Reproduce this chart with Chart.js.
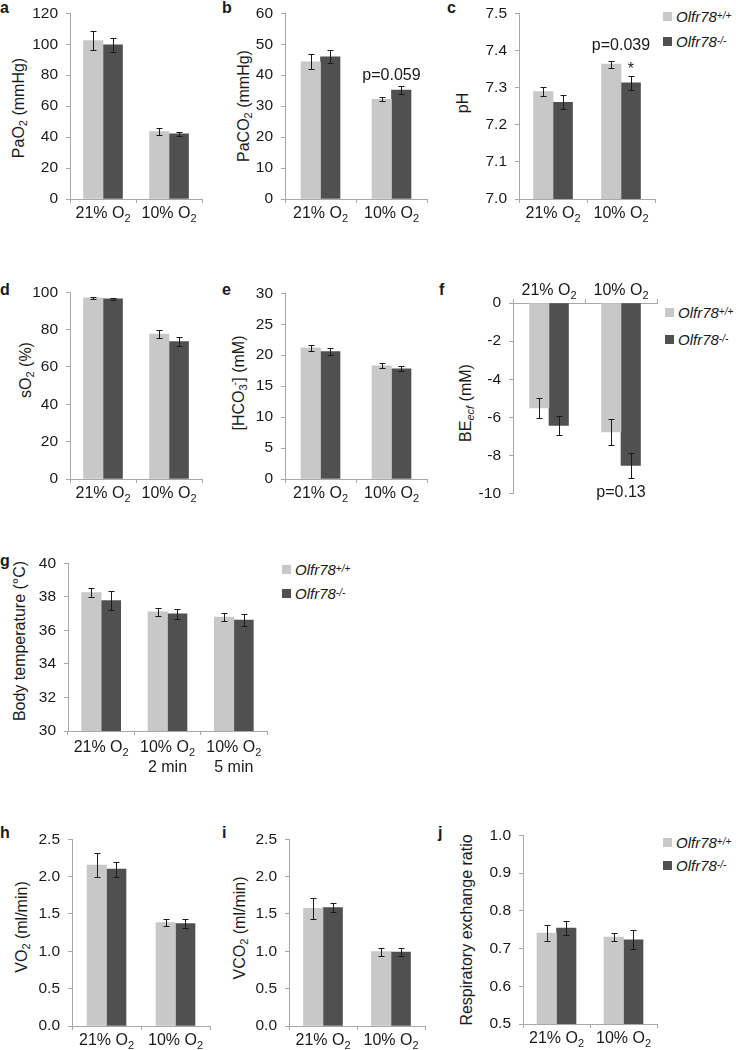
<!DOCTYPE html>
<html>
<head>
<meta charset="utf-8">
<script src="https://cdn.jsdelivr.net/npm/chart.js@4.4.1/dist/chart.umd.min.js"></script>
<style>
  body { margin: 0; background: #fff; width: 736px; height: 1050px; position: relative; overflow: hidden;
         font-family: "Liberation Sans", Arial, sans-serif; color: #1a1a1a; }
  canvas { position: absolute; }
  .lt { position: absolute; font-weight: bold; font-size: 16px; line-height: 16px; }
  .yt { position: absolute; font-size: 16px; line-height: 16px; white-space: nowrap;
        transform: translate(-50%, -50%) rotate(-90deg); }
  .yt sub { font-size: 11px; vertical-align: -3px; line-height: 0; }
  .yt sup { font-size: 11px; vertical-align: 6px; line-height: 0; margin-left: -1px; }
  .leg { position: absolute; display: flex; align-items: center; height: 20px; font-size: 15px;
         font-style: italic; white-space: nowrap; }
  .leg sup { font-size: 10px; vertical-align: 6px; line-height: 0; }
  .sw { width: 9px; height: 9px; margin-right: 4px; display: inline-block; }
</style>
</head>
<body>

<!-- panel letters -->
<div class="lt" style="left:0;top:0">a</div>
<div class="lt" style="left:222px;top:0">b</div>
<div class="lt" style="left:447px;top:0">c</div>
<div class="lt" style="left:0;top:282px">d</div>
<div class="lt" style="left:222px;top:282px">e</div>
<div class="lt" style="left:439px;top:282px">f</div>
<div class="lt" style="left:0;top:553px">g</div>
<div class="lt" style="left:0;top:825px">h</div>
<div class="lt" style="left:222px;top:825px">i</div>
<div class="lt" style="left:438px;top:825px">j</div>

<!-- y axis titles -->
<div class="yt" style="left:19px;top:108px">PaO<sub>2</sub> (mmHg)</div>
<div class="yt" style="left:244px;top:106px">PaCO<sub>2</sub> (mmHg)</div>
<div class="yt" style="left:463px;top:103px">pH</div>
<div class="yt" style="left:26px;top:370px">sO<sub>2</sub> (%)</div>
<div class="yt" style="left:239px;top:383px">[HCO<sub>3</sub><sup>-</sup>] (mM)</div>
<div class="yt" style="left:466px;top:403px">BE<sub><i>ecf</i></sub> (mM)</div>
<div class="yt" style="left:20px;top:641px">Body temperature (°C)</div>
<div class="yt" style="left:22px;top:927px">VO<sub>2</sub> (ml/min)</div>
<div class="yt" style="left:240px;top:928px">VCO<sub>2</sub> (ml/min)</div>
<div class="yt" style="left:467px;top:930px">Respiratory exchange ratio</div>

<!-- legends -->
<div class="leg" style="left:663px;top:6px"><span class="sw" style="background:#c8c8c8"></span>Olfr78<sup>+/+</sup></div>
<div class="leg" style="left:663px;top:31px"><span class="sw" style="background:#505050"></span>Olfr78<sup>-/-</sup></div>
<div class="leg" style="left:665px;top:302px"><span class="sw" style="background:#c8c8c8"></span>Olfr78<sup>+/+</sup></div>
<div class="leg" style="left:665px;top:329px"><span class="sw" style="background:#505050"></span>Olfr78<sup>-/-</sup></div>
<div class="leg" style="left:282px;top:559px"><span class="sw" style="background:#c8c8c8"></span>Olfr78<sup>+/+</sup></div>
<div class="leg" style="left:282px;top:583px"><span class="sw" style="background:#505050"></span>Olfr78<sup>-/-</sup></div>
<div class="leg" style="left:663px;top:832px"><span class="sw" style="background:#c8c8c8"></span>Olfr78<sup>+/+</sup></div>
<div class="leg" style="left:663px;top:855px"><span class="sw" style="background:#505050"></span>Olfr78<sup>-/-</sup></div>

<script>
// --- colours & fonts ---
const LIGHT = '#c8c8c8';
const DARK = '#505050';
const AXIS = '#a8a8a8';
const INK = '#1a1a1a';
const FONT = '"Liberation Sans", Arial, sans-serif';

Chart.defaults.font.family = FONT;
Chart.defaults.font.size = 15;
Chart.defaults.color = INK;

// --- categories ('_' = next char is a subscript) ---
const o2Labels = ['21% O_2', '10% O_2'];
const tempLabels = [['21% O_2'], ['10% O_2', '2 min'], ['10% O_2', '5 min']];

// --- a: PaO2 ---
const paO2Wt = [102.3, 43.5];
const paO2Ko = [99.6, 42.1];
const paO2WtErr = [6.3, 2.3];
const paO2KoErr = [4.5, 1.4];

// --- b: PaCO2 ---
const paCO2Wt = [44.3, 32.2];
const paCO2Ko = [45.9, 35.2];
const paCO2WtErr = [2.4, 0.6];
const paCO2KoErr = [2.1, 1.2];

// --- c: pH ---
const phWt = [7.289, 7.363];
const phKo = [7.260, 7.313];
const phWtErr = [0.012, 0.009];
const phKoErr = [0.019, 0.019];

// --- d: sO2 ---
const sO2Wt = [97.0, 77.6];
const sO2Ko = [96.5, 73.6];
const sO2WtErr = [0.6, 2.2];
const sO2KoErr = [0.6, 2.2];

// --- e: HCO3- ---
const hco3Wt = [21.2, 18.3];
const hco3Ko = [20.6, 17.8];
const hco3WtErr = [0.45, 0.4];
const hco3KoErr = [0.5, 0.4];

// --- f: BEecf ---
const beWt = [-5.5, -6.76];
const beKo = [-6.42, -8.52];
const beWtErr = [0.52, 0.68];
const beKoErr = [0.52, 0.65];

// --- g: body temperature ---
const tempWt = [38.26, 37.1, 36.8];
const tempKo = [37.78, 36.98, 36.62];
const tempWtErr = [0.27, 0.26, 0.23];
const tempKoErr = [0.55, 0.31, 0.35];

// --- h: VO2 ---
const vO2Wt = [2.155, 1.385];
const vO2Ko = [2.1, 1.37];
const vO2WtErr = [0.165, 0.045];
const vO2KoErr = [0.1, 0.06];

// --- i: VCO2 ---
const vCO2Wt = [1.575, 0.995];
const vCO2Ko = [1.585, 0.99];
const vCO2WtErr = [0.145, 0.055];
const vCO2KoErr = [0.06, 0.05];

// --- j: respiratory exchange ratio ---
const rerWt = [0.741, 0.730];
const rerKo = [0.754, 0.723];
const rerWtErr = [0.022, 0.011];
const rerKoErr = [0.018, 0.025];

// panel list: box = plot area [left, top, right, bottom] in page pixels
const panels = [
  { id: 'a', labels: o2Labels, wt: paO2Wt, ko: paO2Ko, wtErr: paO2WtErr, koErr: paO2KoErr,
    min: 0, max: 120, step: 20, dec: 0, box: [70, 8, 202, 199], notes: [] },
  { id: 'b', labels: o2Labels, wt: paCO2Wt, ko: paCO2Ko, wtErr: paCO2WtErr, koErr: paCO2KoErr,
    min: 0, max: 60, step: 10, dec: 0, box: [285, 8, 427, 199],
    notes: [{ text: 'p=0.059', cat: 1, at: 38.5 }] },
  { id: 'c', labels: o2Labels, wt: phWt, ko: phKo, wtErr: phWtErr, koErr: phKoErr,
    min: 7.0, max: 7.5, step: 0.1, dec: 1, box: [519, 8, 655, 199],
    notes: [{ text: 'p=0.039', cat: 1, at: 7.400 }, { text: '*', cat: 1, ds: 1, at: 7.3355 }] },
  { id: 'd', labels: o2Labels, wt: sO2Wt, ko: sO2Ko, wtErr: sO2WtErr, koErr: sO2KoErr,
    min: 0, max: 100, step: 20, dec: 0, box: [70, 287, 202, 479], notes: [] },
  { id: 'e', labels: o2Labels, wt: hco3Wt, ko: hco3Ko, wtErr: hco3WtErr, koErr: hco3KoErr,
    min: 0, max: 30, step: 5, dec: 0, box: [285, 288, 427, 479], notes: [] },
  { id: 'f', labels: o2Labels, wt: beWt, ko: beKo, wtErr: beWtErr, koErr: beKoErr,
    min: -10, max: 0, step: 2, dec: 0, box: [513, 303, 657, 497], xTop: true,
    notes: [{ text: 'p=0.13', cat: 1, at: -10.19 }] },
  { id: 'g', labels: tempLabels, wt: tempWt, ko: tempKo, wtErr: tempWtErr, koErr: tempKoErr,
    min: 30, max: 40, step: 2, dec: 0, box: [68, 558, 267, 731], labelY: 20.5, notes: [] },
  { id: 'h', labels: o2Labels, wt: vO2Wt, ko: vO2Ko, wtErr: vO2WtErr, koErr: vO2KoErr,
    min: 0, max: 2.5, step: 0.5, dec: 1, box: [72, 834, 210, 1026], notes: [] },
  { id: 'i', labels: o2Labels, wt: vCO2Wt, ko: vCO2Ko, wtErr: vCO2WtErr, koErr: vCO2KoErr,
    min: 0, max: 2.5, step: 0.5, dec: 1, box: [289, 834, 425, 1026], notes: [] },
  { id: 'j', labels: o2Labels, wt: rerWt, ko: rerKo, wtErr: rerWtErr, koErr: rerKoErr,
    min: 0.5, max: 1.0, step: 0.1, dec: 1, box: [523, 830, 657, 1024], notes: [] }
];

// draw a string centred on x, with '_x' rendered as a small subscript
function drawRich(ctx, str, x, y) {
  const parts = [];
  for (let i = 0; i < str.length; i++) {
    const sub = str[i] === '_';
    const ch = sub ? str[++i] : str[i];
    const last = parts[parts.length - 1];
    if (last && last.sub === sub) last.t += ch;
    else parts.push({ t: ch, sub });
  }
  let w = 0;
  parts.forEach(p => {
    ctx.font = (p.sub ? '11px ' : '16px ') + FONT;
    p.w = ctx.measureText(p.t).width;
    w += p.w;
  });
  let cx = x - w / 2;
  ctx.textAlign = 'left';
  ctx.textBaseline = 'alphabetic';
  parts.forEach(p => {
    ctx.font = (p.sub ? '11px ' : '16px ') + FONT;
    ctx.fillText(p.t, cx, y + (p.sub ? 4 : 0));
    cx += p.w;
  });
}

// error bars, category labels and p-value notes
function overlay(p) {
  return {
    id: 'overlay',
    afterDatasetsDraw(chart) {
      const { ctx, chartArea } = chart;
      const x = chart.scales.x, y = chart.scales.y;
      ctx.save();
      ctx.strokeStyle = INK;
      ctx.lineWidth = 1;
      [p.wtErr, p.koErr].forEach((errs, d) => {
        chart.getDatasetMeta(d).data.forEach((bar, i) => {
          const v = chart.data.datasets[d].data[i];
          const top = Math.round(y.getPixelForValue(v + errs[i])) + 0.5;
          const bot = Math.round(y.getPixelForValue(v - errs[i])) + 0.5;
          const bx = Math.round(bar.x) + 0.5;
          ctx.beginPath();
          ctx.moveTo(bx, top); ctx.lineTo(bx, bot);
          ctx.moveTo(bx - 3, top); ctx.lineTo(bx + 3, top);
          ctx.moveTo(bx - 3, bot); ctx.lineTo(bx + 3, bot);
          ctx.stroke();
        });
      });

      ctx.fillStyle = INK;
      p.labels.forEach((lab, i) => {
        const lines = Array.isArray(lab) ? lab : [lab];
        const cx = x.getPixelForValue(i);
        lines.forEach((ln, k) => {
          const by = p.xTop ? chartArea.top - 8 : chartArea.bottom + (p.labelY || 19) + k * 20;
          drawRich(ctx, ln, cx, by);
        });
      });

      p.notes.forEach(n => {
        const nx = n.ds === undefined ? x.getPixelForValue(n.cat)
                                      : chart.getDatasetMeta(n.ds).data[n.cat].x;
        drawRich(ctx, n.text, nx, y.getPixelForValue(n.at));
      });
      ctx.restore();
    }
  };
}

const PL = 62, PR = 10;

panels.forEach(p => {
  const [L, T, R, B] = p.box;
  const padTop = p.xTop ? 30 : 12;
  const padBot = p.xTop ? 14 : 50;
  const W = (R - L) + PL + PR;
  const H = (B - T) + padTop + padBot;

  const canvas = document.createElement('canvas');
  canvas.width = W;
  canvas.height = H;
  canvas.style.left = (L - PL) + 'px';
  canvas.style.top = (T - padTop) + 'px';
  canvas.style.width = W + 'px';
  canvas.style.height = H + 'px';
  document.body.appendChild(canvas);

  new Chart(canvas, {
    type: 'bar',
    data: {
      labels: p.labels,
      datasets: [
        { label: 'Olfr78 +/+', data: p.wt, backgroundColor: LIGHT, barThickness: 19.5 },
        { label: 'Olfr78 -/-', data: p.ko, backgroundColor: DARK, barThickness: 19.5 }
      ]
    },
    options: {
      responsive: false,
      animation: false,
      layout: { padding: p.xTop ? { left: 0, top: 0, right: PR, bottom: padBot }
                                : { left: 0, top: padTop, right: PR, bottom: 0 } },
      plugins: { legend: { display: false }, tooltip: { enabled: false } },
      scales: {
        x: {
          position: p.xTop ? 'top' : 'bottom',
          offset: true,
          ticks: { display: false },
          grid: { offset: true, drawOnChartArea: false, drawTicks: true, tickLength: 4, color: AXIS },
          border: { color: AXIS },
          afterFit: (s) => { s.height = p.xTop ? padTop : padBot; }
        },
        y: {
          min: p.min, max: p.max,
          ticks: { stepSize: p.step, padding: 8, color: INK, font: { size: 15.5 },
                   callback: (v) => Number(v).toFixed(p.dec) },
          grid: { drawOnChartArea: false, drawTicks: true, tickLength: 4, color: AXIS },
          border: { color: AXIS },
          afterFit: (s) => { s.width = PL; }
        }
      }
    },
    plugins: [overlay(p)]
  });
});
</script>
</body>
</html>
